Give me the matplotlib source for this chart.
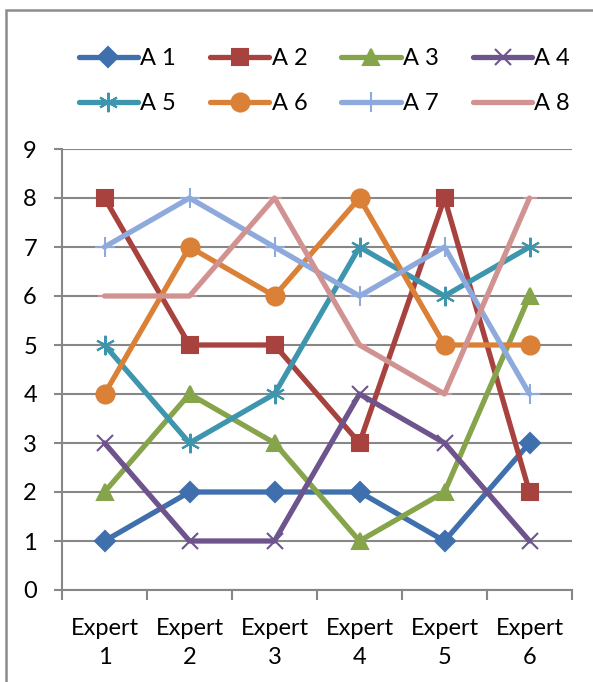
import matplotlib
matplotlib.use("Agg")
import matplotlib.pyplot as plt
from matplotlib.patches import Rectangle

plt.rcParams['font.family'] = ['Lato', 'DejaVu Sans']

experts = ["Expert\n1", "Expert\n2", "Expert\n3", "Expert\n4", "Expert\n5", "Expert\n6"]
series_names = ["A 1", "A 2", "A 3", "A 4", "A 5", "A 6", "A 7", "A 8"]
a1 = [1, 2, 2, 2, 1, 3]
a2 = [8, 5, 5, 3, 8, 2]
a3 = [2, 4, 3, 1, 2, 6]
a4 = [3, 1, 1, 4, 3, 1]
a5 = [5, 3, 4, 7, 6, 7]
a6 = [4, 7, 6, 8, 5, 5]
a7 = [7, 8, 7, 6, 7, 4]
a8 = [6, 6, 8, 5, 4, 8]
values = [a1, a2, a3, a4, a5, a6, a7, a8]

colors = ["#3F6FAC", "#A8423F", "#86A44A", "#6E548D",
          "#3D96AE", "#DA8137", "#8EA9DB", "#D19392"]
markers = ["D", "s", "^", "x", (6, 2, 0), "o", "+", "_"]
msizes = [10, 12, 12, 12, 14, 13, 14, 10]

fig = plt.figure(figsize=(5.93, 6.82), dpi=100)
ax = fig.add_axes([62 / 593, 1 - 590 / 682, 510 / 593, 441 / 682])

grid_c = "#878787"
x = list(range(len(experts)))
handles = []
for name, ys, c, m, ms in zip(series_names, values, colors, markers, msizes):
    h, = ax.plot(x, ys, color=c, lw=3.8, marker=m, markersize=ms,
                 markerfacecolor=c, markeredgecolor=c, markeredgewidth=1.5,
                 label=name, solid_capstyle='round', solid_joinstyle='round',
                 clip_on=False, zorder=3)
    handles.append(h)

ax.set_xlim(-0.5, 5.5)
ax.set_ylim(0, 9)
ax.set_yticks(range(0, 10))
ax.yaxis.grid(True, color=grid_c, lw=1.5)
ax.set_axisbelow(True)

ax.set_xticks([i - 0.5 for i in range(7)])
ax.set_xticklabels([])
ax.set_xticks(x, minor=True)
ax.set_xticklabels(experts, minor=True, fontsize=17, linespacing=1.5)
ax.tick_params(axis='x', which='minor', length=0, pad=20)
ax.tick_params(axis='x', which='major', length=7, width=1.5, color=grid_c, direction='out')
ax.tick_params(axis='y', length=6, width=1.5, color=grid_c, labelsize=17, pad=12)

for s in ["top", "right"]:
    ax.spines[s].set_visible(False)
for s in ["left", "bottom"]:
    ax.spines[s].set_color(grid_c)
    ax.spines[s].set_linewidth(1.5)

# legend fills column by column, so interleave to read row by row
order = [0, 4, 1, 5, 2, 6, 3, 7]
fig.legend([handles[i] for i in order], [series_names[i] for i in order],
           loc="center", bbox_to_anchor=(0.547, 1 - 81 / 682), ncol=4,
           frameon=False, fontsize=17, handlelength=2.5, handletextpad=0.1,
           columnspacing=1.45, labelspacing=1.0, numpoints=1)

fig.patches.append(Rectangle((6 / 593, -0.1), 1.2, 1 - 10 / 682 + 0.1,
                             transform=fig.transFigure, fill=False,
                             edgecolor="#8C8C8C", lw=1.8, zorder=0))

fig.savefig("out.png", dpi=100)
